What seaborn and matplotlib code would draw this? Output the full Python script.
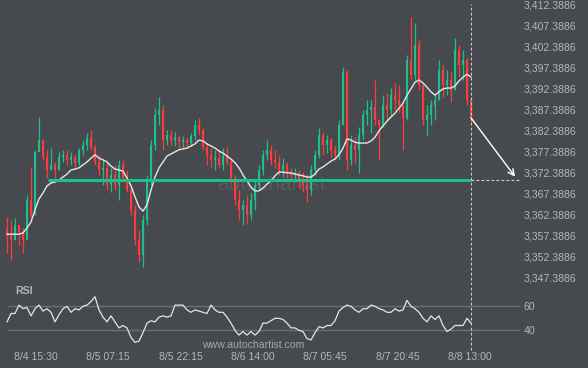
import numpy as np
import pandas as pd
import matplotlib
matplotlib.use("Agg")
import matplotlib.pyplot as plt
import seaborn as sns

# 15-minute candles
highs = [3361.8, 3361.1, 3361.6, 3359.9, 3359.2, 3367.0, 3373.7, 3377.8, 3385.6, 3380.1,
         3377.8, 3378.2, 3374.9, 3377.3, 3377.8, 3377.8, 3377.3, 3376.6, 3378.2, 3380.1,
         3381.8, 3382.5, 3378.9, 3376.6, 3375.4, 3374.9, 3373.5, 3374.2, 3375.4, 3375.4,
         3373.0, 3369.4, 3364.7, 3358.7, 3362.3, 3371.8, 3380.1, 3387.8, 3390.4, 3388.5,
         3382.5, 3382.5, 3382.0, 3381.3, 3381.1, 3380.8, 3381.8, 3384.9, 3385.4, 3383.0,
         3379.4, 3378.2, 3377.8, 3377.8, 3378.2, 3378.5, 3375.8, 3371.8, 3368.2, 3365.8,
         3367.0, 3367.5, 3370.6, 3374.2, 3377.8, 3380.1, 3378.9, 3377.8, 3376.6, 3375.8,
         3374.9, 3373.5, 3373.5, 3373.0, 3372.5, 3371.8, 3374.2, 3377.8, 3383.0, 3382.0,
         3381.3, 3380.6, 3378.9, 3384.9, 3397.5, 3396.8, 3381.3, 3380.8, 3383.2, 3387.3,
         3389.7, 3389.7, 3394.4, 3384.9, 3390.8, 3391.3, 3392.5, 3393.7, 3393.2, 3388.5,
         3400.4, 3409.4, 3408.0, 3403.9, 3393.2, 3388.5, 3389.7, 3390.8, 3399.2, 3398.0,
         3396.8, 3396.3, 3404.4, 3402.8, 3401.6, 3399.7, 3389.7]
lows = [3353.2, 3351.6, 3356.3, 3355.1, 3353.2, 3357.5, 3360.6, 3362.3, 3377.8, 3375.4,
        3371.1, 3373.0, 3371.1, 3373.0, 3374.9, 3374.2, 3374.2, 3373.7, 3374.2, 3376.6,
        3377.8, 3377.8, 3374.2, 3371.8, 3369.4, 3368.2, 3367.7, 3368.2, 3365.8, 3370.1,
        3367.7, 3362.3, 3355.1, 3351.1, 3349.9, 3359.9, 3369.4, 3377.8, 3383.7, 3377.8,
        3378.9, 3378.9, 3378.7, 3378.2, 3378.5, 3378.2, 3378.7, 3380.1, 3381.3, 3377.8,
        3374.2, 3373.7, 3373.0, 3373.5, 3373.0, 3374.2, 3370.1, 3364.7, 3361.1, 3359.9,
        3360.4, 3361.1, 3363.5, 3368.2, 3371.8, 3375.4, 3374.2, 3373.5, 3371.8, 3371.3,
        3371.1, 3370.6, 3370.1, 3368.7, 3367.7, 3365.4, 3367.0, 3371.8, 3375.8, 3376.6,
        3377.0, 3376.1, 3375.4, 3375.4, 3383.7, 3373.0, 3374.2, 3374.7, 3372.3, 3380.1,
        3383.7, 3381.8, 3383.7, 3375.4, 3383.2, 3384.9, 3386.1, 3387.3, 3386.8, 3377.8,
        3384.9, 3394.4, 3394.4, 3392.0, 3383.7, 3381.3, 3383.7, 3384.9, 3389.7, 3390.4,
        3390.8, 3389.2, 3392.0, 3395.1, 3394.4, 3388.5, 3384.4]
closes = [3357.5, 3356.3, 3359.9, 3358.2, 3356.3, 3365.8, 3362.3, 3377.3, 3380.1, 3376.1,
          3373.0, 3374.2, 3373.0, 3376.1, 3376.6, 3375.4, 3376.1, 3374.7, 3377.8, 3378.9,
          3380.6, 3378.5, 3374.9, 3373.0, 3373.5, 3369.4, 3371.8, 3369.4, 3374.2, 3371.1,
          3368.2, 3363.5, 3356.3, 3352.7, 3361.1, 3370.6, 3378.9, 3386.1, 3387.3, 3380.1,
          3381.3, 3380.1, 3380.8, 3379.7, 3380.1, 3379.4, 3381.1, 3383.7, 3382.5, 3378.5,
          3376.6, 3375.4, 3375.8, 3374.2, 3376.6, 3374.9, 3371.1, 3365.8, 3363.5, 3364.7,
          3362.3, 3365.8, 3369.4, 3373.0, 3376.6, 3377.8, 3375.4, 3374.9, 3373.0, 3374.2,
          3372.5, 3371.8, 3372.3, 3370.6, 3369.4, 3368.2, 3373.0, 3376.6, 3381.3, 3378.9,
          3380.1, 3377.8, 3376.6, 3383.7, 3396.3, 3375.4, 3378.9, 3377.8, 3381.3, 3386.1,
          3387.3, 3388.0, 3384.9, 3383.7, 3388.5, 3387.3, 3390.8, 3389.7, 3388.5, 3385.4,
          3399.2, 3395.6, 3402.8, 3393.2, 3384.9, 3386.1, 3388.5, 3389.7, 3396.8, 3393.2,
          3394.4, 3392.0, 3401.6, 3398.0, 3399.2, 3389.7, 3385.4]
first_open = 3359.0

# moving average (white line)
ma = [3357.7, 3357.7, 3357.7, 3357.7, 3358.0, 3359.2, 3360.6, 3363.5, 3366.1, 3367.5,
      3369.2, 3369.9, 3370.1, 3370.6, 3371.3, 3372.0, 3373.0, 3373.2, 3373.5, 3374.2,
      3374.9, 3375.8, 3376.6, 3375.8, 3375.4, 3374.9, 3373.9, 3373.2, 3373.0, 3372.7,
      3371.1, 3369.2, 3366.6, 3364.2, 3363.2, 3364.7, 3368.2, 3371.3, 3373.5, 3374.9,
      3376.3, 3376.8, 3377.3, 3377.8, 3378.0, 3378.2, 3378.7, 3379.2, 3380.1, 3379.9,
      3379.2, 3378.7, 3378.2, 3377.5, 3377.0, 3376.3, 3375.6, 3374.7, 3373.5, 3371.8,
      3370.4, 3368.9, 3368.0, 3368.0, 3368.7, 3369.6, 3370.4, 3371.6, 3372.5, 3372.5,
      3372.3, 3372.3, 3372.0, 3371.8, 3371.6, 3371.3, 3371.3, 3372.0, 3373.2, 3373.7,
      3374.4, 3375.1, 3375.6, 3376.6, 3378.2, 3380.4, 3380.1, 3379.6, 3379.4, 3379.4,
      3379.4, 3379.9, 3380.8, 3382.3, 3383.5, 3384.6, 3385.6, 3386.5, 3387.7, 3388.9,
      3390.8, 3392.3, 3393.9, 3394.4, 3393.7, 3392.7, 3391.6, 3390.8, 3391.6, 3392.3,
      3392.5, 3392.5, 3393.0, 3394.2, 3395.1, 3395.8, 3395.1]

rsi = [47, 54, 54, 61, 58, 59, 52, 58, 61, 56,
       58, 55, 47, 53, 58, 60, 55, 58, 57, 60,
       61, 64, 68, 57, 51, 47, 52, 47, 42, 44,
       42, 34, 30, 31, 38, 46, 48, 47, 51, 52,
       51, 52, 61, 61, 61, 57, 55, 57, 56, 55,
       54, 61, 57, 55, 55, 51, 46, 40, 36, 39,
       36, 39, 36, 39, 46, 46, 48, 50, 50, 49,
       46, 42, 42, 40, 39, 33, 32, 38, 43, 42,
       44, 44, 48, 56, 59, 61, 60, 57, 55, 58,
       58, 61, 60, 58, 57, 55, 55, 58, 56, 57,
       65, 60, 58, 55, 50, 47, 52, 49, 52, 44,
       39, 41, 44, 44, 44, 50, 46]

support_level = 3370.6
support_start = 10.2
forecast_end = (127, 3371.4)

price_ticks = [3347.3886 + 5 * k for k in range(14)]
rsi_ticks = [40, 60]
time_ticks = [7.25, 25.25, 43.5, 61.5, 79.5, 97.75, 115.75]
time_labels = ["8/4 15:30", "8/5 07:15", "8/5 22:15", "8/6 14:00",
               "8/7 05:45", "8/7 20:45", "8/8 13:00"]

bg = "#46494e"
green = "#1dbf8a"
red = "#ff3b3b"
txt = "#b3b6ba"
line_col = "#e6e6e6"

sns.set_theme(style="dark", rc={"axes.facecolor": bg, "figure.facecolor": bg})
plt.rcParams["font.family"] = ["Liberation Sans", "DejaVu Sans"]

df = pd.DataFrame({"high": highs, "low": lows, "close": closes, "ma": ma, "rsi": rsi})
df["open"] = [first_open] + closes[:-1]
df["idx"] = np.arange(len(df))
last = df["idx"].iloc[-1]

W, H = 588, 368
fig = plt.figure(figsize=(W / 100, H / 100), dpi=100)
ax = fig.add_axes([0, 1 - 285 / H, 522 / W, 285 / H])
rax = fig.add_axes([0, 1 - 345 / H, 522 / W, 60 / H])

xlim = (-1.75, 128.75)

# faint watermark behind candles
ax.text(217 / W, 1 - 184 / H, "autochartist", transform=fig.transFigure,
        fontsize=15, color="#56595e", va="center", ha="left", zorder=0)

up = df["close"] >= df["open"]
cols = np.where(up, green, red)
ax.vlines(df["idx"], df["low"], df["high"], colors=cols, lw=0.9, zorder=2)
body = (df["close"] - df["open"]).abs().clip(lower=0.15)
ax.bar(df["idx"], body, bottom=np.minimum(df["open"], df["close"]),
       width=0.65, color=cols, linewidth=0, zorder=2)

sns.lineplot(data=df, x="idx", y="ma", ax=ax, color=line_col, lw=1.0, zorder=3)

ax.hlines(support_level, support_start, last, color=green, lw=2.2, zorder=4)
ax.hlines(support_level, last, xlim[1] - 0.3, color="#cfcfcf", lw=0.8,
          linestyles=(0, (2.5, 2)), zorder=4)
ax.axvline(last, ymin=0, ymax=1 - 4 / 285, color="#cfcfcf", lw=0.8,
           linestyle=(0, (2.5, 2)), zorder=4)
ax.annotate("", xy=forecast_end, xytext=(last, df["close"].iloc[-1]),
            arrowprops=dict(arrowstyle="->", color="white", lw=1.0,
                            mutation_scale=11, shrinkA=0, shrinkB=0), zorder=5)

ax.set_xlim(*xlim)
ax.set_ylim(3413.46 - 285 * 0.2381, 3413.46)
ax.yaxis.tick_right()
ax.set_yticks(price_ticks)
ax.set_yticklabels([f"{v:,.4f}" for v in price_ticks])
ax.set_xticks([])
ax.tick_params(axis="y", length=0, pad=1, labelsize=7.6, labelcolor=txt)
ax.set_xlabel("")
ax.set_ylabel("")

# RSI panel
for lv in rsi_ticks:
    rax.hlines(lv, 0, xlim[1] - 0.5, color="#6a6d72", lw=1)
sns.lineplot(data=df, x="idx", y="rsi", ax=rax, color=line_col, lw=0.9)
rax.axvline(last, ymin=-5 / 60, ymax=1, color="#cfcfcf", lw=0.8,
            linestyle=(0, (2.5, 2)), clip_on=False)
rax.set_xlim(*xlim)
rax.set_ylim(27.75, 77.75)
rax.yaxis.tick_right()
rax.set_yticks(rsi_ticks)
rax.set_xticks(time_ticks)
rax.set_xticklabels(time_labels)
rax.tick_params(axis="both", length=0, labelsize=7.6, labelcolor=txt)
rax.tick_params(axis="y", pad=1)
rax.tick_params(axis="x", pad=5)
rax.set_xlabel("")
rax.set_ylabel("")

for a in (ax, rax):
    for s in a.spines.values():
        s.set_visible(False)
    a.grid(False)

fig.text(15 / W, 1 - 291 / H, "RSI", fontsize=7.6, fontweight="bold",
         color=txt, va="center", ha="left")
fig.text(253 / W, 1 - 345 / H, "www.autochartist.com", fontsize=7.6,
         color="#a3a6aa", va="center", ha="center")

fig.savefig("out.png", dpi=100, facecolor=bg)
